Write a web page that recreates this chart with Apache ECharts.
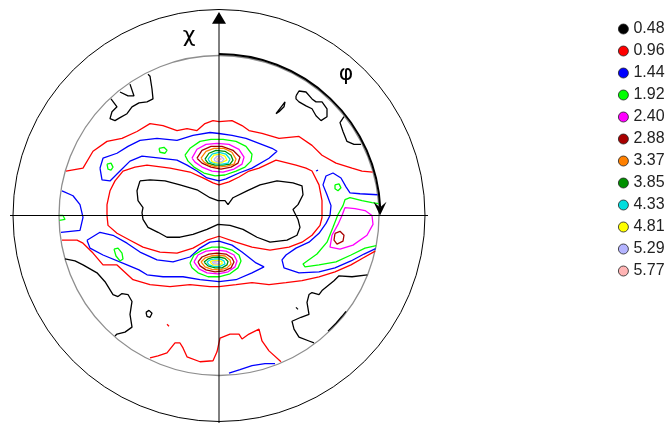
<!DOCTYPE html>
<html>
<head>
<meta charset="utf-8">
<script src="https://cdn.jsdelivr.net/npm/echarts@6/dist/echarts.min.js"></script>
<style>
  html, body { margin: 0; padding: 0; background: #fff; }
  #chart { width: 672px; height: 423px; }
</style>
</head>
<body>
<div id="chart"></div>
<script>
// Pole figure contour plot. Coordinates are on the projection plane,
// where the rim of the pole figure (chi = 90 deg) has radius 80.

// Contour levels (intensity) and their line colours
const levels = ['0.48', '0.96', '1.44', '1.92', '2.40', '2.88', '3.37', '3.85', '4.33', '4.81', '5.29', '5.77'];
const levelColors = ['#000000', '#ff0000', '#0000ff', '#00ff00', '#ff00ff', '#a80000',
                     '#ff8000', '#009000', '#00dede', '#ffff00', '#b4b4ff', '#ffb4b4'];

// ---- 0.48 ----
const rings048 = [
  [[-39.5,17.5],[-34.5,18],[-27,17.5],[-19.5,15.5],[-11,13],[-4.5,9],[-0.5,7.5],[3,7.5],[4.5,5.5],[7,9],[14,12.5],[20.5,15.5],[29,17.5],[37,16.5],[41.5,15],[42,10.5],[39.5,5.5],[37,3],[39.5,-2],[40.5,-6],[39,-10],[34,-12.5],[25.5,-13.5],[19,-11],[12,-7],[5.5,-5],[-0.5,-4.5],[-6,-7],[-13,-9.5],[-19.5,-11],[-26,-11],[-30.5,-8.5],[-35.5,-6],[-38,-2],[-38.5,1.5],[-38,4],[-40.5,7.5],[-41,12.5]],
  [[28.5,51.5],[31.5,55.5],[33,57.5],[32.5,55],[30,52.5]],
  [[38.5,60.5],[40,63],[43.5,62.5],[46.5,59],[48.5,57.5],[51.5,57.5],[54,54],[54,50],[51,48],[48.5,50.5],[46.5,54],[43.5,55.5],[40,57.5],[38.5,59]],
  [[-36.5,-49],[-35,-48],[-33.5,-49.5],[-34.5,-51.5],[-36,-51]],
  [[38.5,-46.5],[39.5,-46.5],[39.5,-47.5],[38.5,-47.5]]
];
const paths048 = [
  [[-54,59],[-51,55],[-53.5,52.5],[-54.5,49],[-52,48],[-49.5,49.5],[-46,51.5],[-43.5,55],[-40,57],[-36,57.5],[-33,59],[-33.5,64],[-34.5,70.5],[-35.5,71.5]],
  [[-49.5,62.5],[-45.5,60.5],[-42.5,60.5],[-44.5,66.5]],
  [[62.5,50],[60.5,47],[62,42.5],[64,37.5],[67.5,36],[71,36]],
  [[-77,-22],[-72,-23],[-68,-25],[-61,-29],[-57,-33.5],[-53,-40],[-50.5,-41],[-48.5,-39.5],[-45.5,-40],[-43.5,-43.5],[-44.5,-50],[-43.5,-56.5],[-47,-59],[-51,-60],[-52,-61]],
  [[74.2,-30],[66.5,-31],[60,-30.5],[57.5,-33],[51.5,-38],[50,-40],[46.5,-39],[45,-40],[44,-44],[45,-50],[41,-51.5],[36.5,-53.5],[37.5,-57.5],[40,-61.5],[45,-63.5],[47.5,-64.5]],
  [[54.5,-58.5],[58.5,-54.5],[61.5,-51],[63.5,-48.5]]
];

// ---- 0.96 ----
const rings096 = [
  [[-56,0],[-56,5.5],[-54.5,12.5],[-52,17.5],[-48,22.5],[-42,24.5],[-36,25.5],[-24.5,24],[-14.5,22],[-8,19],[-3,16.5],[0,15.5],[5,17],[10,19.5],[15,22.5],[20,24],[28.5,28],[38.5,25.5],[43.5,24],[46.5,22.5],[50,15.5],[51.5,7.5],[51.5,-1],[50.5,-5],[46.5,-10],[41.5,-13.5],[35,-16],[25.5,-17.5],[16.5,-16],[8.5,-13.5],[0,-10.5],[-6,-12.5],[-13,-16.5],[-21,-19],[-29.5,-18.5],[-38,-16],[-44.5,-12.5],[-51,-9],[-55.5,-5]],
  [[-26,-55],[-25,-55],[-25,-56],[-26,-56]]
];
const paths096 = [
  [[-76.5,22.5],[-68,24],[-63,32.5],[-56,37.5],[-48.5,39],[-41,42.5],[-34.5,46.5],[-28,45.5],[-21,43],[-16,44],[-11,43],[-7,46.5],[-3,48],[0,47.5],[6.5,48],[11.5,45.5],[15,43],[21.5,41.5],[30,39],[40,40],[46.5,35.5],[51.5,30.5],[58.5,26.5],[66.5,24],[71.5,22.5],[76.8,22]],
  [[-78.5,-12.5],[-71,-12.5],[-68,-14],[-63,-19],[-58,-25],[-51,-25],[-43,-32.5],[-34.5,-35],[-24.5,-36],[-14.5,-35],[-4.5,-36],[0,-36],[8.5,-35],[16.5,-34],[25,-35],[33.5,-34],[41.5,-33],[50,-31],[58,-28.5],[66,-25],[72,-21.5],[78.1,-18]],
  [[-34.5,-72],[-30.5,-71],[-26,-69.5],[-22,-64.5],[-19.5,-64.5],[-18,-67],[-16,-71.5],[-9.5,-74],[-3,-73.5],[-1,-69],[0.5,-62],[5.5,-60],[10,-60],[11.5,-62.5],[15,-60],[20,-57.5],[21.5,-63.5],[25,-68.5],[31,-74]]
];

// ---- 1.44 ----
const rings144 = [
  [[-59.5,24],[-58,29],[-51,31.5],[-45.5,35],[-39.5,38],[-31,39],[-21,38],[-13,40.5],[-4.5,42],[0,41.5],[6.5,40.5],[13.5,39],[20,36.5],[26.5,34],[29,32.5],[25,29],[16.5,24],[10,21.5],[3.5,18.5],[0,17.5],[-6,19],[-11,22.5],[-16,25.5],[-21,28],[-29.5,29],[-38.5,30],[-44.5,27.5],[-49.5,22.5],[-54.5,17.5],[-58.5,18]],
  [[-66,-12.5],[-59.5,-8.5],[-53,-10],[-46,-14],[-39.5,-18.5],[-31,-22.5],[-23,-23.5],[-14.5,-21],[-9.5,-16.5],[-4.5,-13.5],[0,-13],[6.5,-15],[11.5,-18.5],[18.5,-24],[22.5,-26],[21.5,-26.5],[16.5,-29],[8.5,-32.5],[0,-33.5],[-9.5,-32.5],[-18,-31],[-28,-31],[-36,-30],[-40,-27.5],[-46,-25],[-58,-20],[-64.5,-16.5]],
  [[48.5,22.5],[49.5,23],[49.5,22],[48.5,22]]
];
const paths144 = [
  [[-78.5,12.5],[-73,10],[-69.5,5.5],[-68,-1],[-69.5,-7.5],[-79,-8.5]],
  [[79.3,10.5],[70.5,11],[65.5,11.5],[63.5,14.5],[61,19],[57,21.5],[53.5,20],[52,15.5],[54,10.5],[56,5],[55.5,0],[53.5,-4],[50,-9],[45,-13.5],[38.5,-16.5],[33.5,-20],[31.5,-22.5],[32.5,-26.5],[40,-29],[50,-28.5],[58,-26.5],[66,-23],[72.5,-19.5],[78.3,-16.8]],
  [[5,-79.8],[10.5,-78],[16.5,-76],[23,-75],[28,-75]]
];

// ---- 1.92 ----
const rings192 = [
  [[-56,26],[-54,26.5],[-53,24.5],[-54,23],[-55.5,23.5]],
  [[-30,34],[-27.5,34.5],[-26,33],[-27,31.5],[-29.5,32]],
  [[-17,30.5],[-14.5,34],[-9.5,37.5],[-4,38.5],[2,38.5],[8.5,37.5],[13.5,35],[16.5,31],[16,27.5],[13,24.5],[8.5,22.5],[3,20.5],[-2,20],[-7.5,21.5],[-12.5,24.5],[-15.5,27.5]],
  [[-52.5,-17],[-50.5,-16.5],[-48.5,-19],[-48,-22],[-49.5,-23],[-51.5,-20.5]],
  [[58,15.5],[60,16],[61,14],[59.5,12.5],[58,13.5]],
  [[-14.5,-24],[-12.5,-20],[-8.5,-17.5],[-3.5,-16],[1.5,-16],[6.5,-17.5],[10,-20],[11,-23],[9.5,-26.5],[5.5,-29.5],[0,-31],[-5.5,-31],[-10.5,-29],[-13.5,-26.5]]
];
const paths192 = [
  [[-79.95,0],[-78,0],[-77,-2],[-79.8,-2.5]],
  [[79.8,6],[76.5,6.5],[71.5,7.5],[65.5,9],[63,8],[62,5],[59.5,0.5],[57,-6],[54,-13.5],[49,-19.5],[42,-24.5],[43,-26],[50,-25],[58.5,-23.5],[66,-20],[73,-16.5],[78.6,-15.2]]
];

// ---- 2.40 ----
const rings240 = [
  [[-13.5,29],[-11,33.5],[-6.5,36],[-1,36.5],[5,36],[10,33.5],[12.5,29.5],[11.5,26],[7.5,23.5],[2,22],[-3.5,22.5],[-8.5,24.5],[-12,27]],
  [[-12.5,-23.5],[-10.5,-20],[-6.5,-18],[-1.5,-17.5],[3.5,-18],[7.5,-20],[9,-23],[8,-26],[4.5,-28.5],[-0.5,-29.5],[-6,-29],[-10,-27]],
  [[63,4],[68,3.5],[73,2.5],[76.5,0],[77,-4.5],[74,-10],[67,-15],[60.5,-17],[55.5,-16],[56.5,-10],[59.5,-4.5],[61.5,0]]
];

// ---- 2.88 ----
const rings288 = [
  [[-11,29],[-8.5,33],[-4,35],[1.5,35],[7,33],[10.5,29.5],[9.5,26.5],[6,24.5],[1,23.5],[-4,24.5],[-8.5,26.5]],
  [[-10.5,-23.5],[-8.5,-21],[-5,-19.5],[-1,-19],[3.5,-19.5],[6.5,-21.5],[7.5,-23.5],[6,-26.5],[2.5,-28],[-2,-28.5],[-6.5,-27.5],[-9.5,-25.5]],
  [[58,-9],[60.5,-8],[62.5,-10],[62,-13],[59,-14.5],[57.5,-12.5]]
];

// ---- 3.37 ----
const rings337 = [
  [[-9,29],[-6.5,32.5],[-2.5,34],[2.5,34],[6.5,32],[8.5,28.5],[7.5,26],[4,25],[-0.5,24.5],[-5,25.5],[-7.5,27]],
  [[-9,-23.5],[-7,-21.5],[-4,-20.5],[-0.5,-20],[3,-20.5],[5.5,-22.5],[6,-24.5],[4,-26.5],[0.5,-27.5],[-3.5,-27.3],[-7,-26]]
];

// ---- 3.85 ----
const rings385 = [
  [[-7,28.5],[-5,31.5],[-1.5,33],[3,32.5],[6,30.5],[7,28],[5.5,26],[2,25.5],[-2,25.5],[-5.5,26.5]],
  [[-7.5,-23.5],[-5.5,-22],[-3,-21.2],[0,-21],[3,-21.7],[4.5,-23.3],[4,-25],[1.5,-26.5],[-2,-26.5],[-5.5,-25.5]]
];

// ---- 4.33 ----
const rings433 = [
  [[-5.5,28.5],[-3.5,31],[0,32],[3.5,31],[5.5,28.5],[4.5,26.5],[1.5,26],[-2,26.2],[-4.5,27]],
  [[-6,-23.5],[-4.5,-22.5],[-2,-22],[0.5,-22],[2.5,-23],[3,-24.5],[0.5,-25.7],[-2.5,-25.7],[-5,-25]]
];

// ---- 4.81 ----
const rings481 = [
  [[-4,28.5],[-2.5,30.5],[0.5,31],[3,30],[4,28],[3,27],[0.5,26.5],[-2,26.8],[-3.5,27.3]],
  [[-4.5,-23.5],[-3,-22.8],[-0.5,-22.7],[1.5,-23.3],[1.5,-24.5],[-0.5,-25],[-3,-25]]
];

// ---- 5.29 ----
const rings529 = [
  [[-2.5,28.5],[-1,30],[1,30],[2.5,28.5],[1.5,27.3],[-0.5,27.1],[-2,27.6]],
  [[-3.5,-23.6],[-2,-23.2],[0,-23.3],[0.8,-23.8],[0,-24.5],[-2.5,-24.5]]
];

// ---- 5.77 ----
const rings577 = [
  [[-1.2,28.5],[0,29.3],[1.2,28.6],[0.8,27.8],[-0.5,27.8]],
  [[-2.5,-23.8],[-1,-23.5],[0,-23.9],[-1.5,-24.3]]
];

// Closed rings and rim-to-rim paths for each level, in level order
const levelRings = [rings048, rings096, rings144, rings192, rings240, rings288,
                    rings337, rings385, rings433, rings481, rings529, rings577];
const levelPaths = [paths048, paths096, paths144, paths192, [], [], [], [], [], [], [], []];

const series = [];
levels.forEach((name, i) => {
  const color = levelColors[i];
  const lines = levelRings[i].map(r => r.concat([r[0]])).concat(levelPaths[i]);
  lines.forEach(pts => {
    series.push({
      type: 'line', name: name, data: pts,
      symbol: 'none', smooth: false, silent: true, animation: false, z: 3,
      lineStyle: { color: color, width: 1.3 },
      itemStyle: { color: color }
    });
  });
});

const chart = echarts.init(document.getElementById('chart'));
chart.setOption({
  animation: false,
  backgroundColor: '#ffffff',
  grid: { left: 9, top: 8, width: 420, height: 420 },
  xAxis: { type: 'value', min: -105, max: 105, show: false },
  yAxis: { type: 'value', min: -105, max: 105, show: false },
  legend: {
    data: levels,
    orient: 'vertical',
    left: 613, top: 16,
    icon: 'circle',
    itemWidth: 10, itemHeight: 10, itemGap: 6,
    selectedMode: false,
    itemStyle: { borderColor: '#222', borderWidth: 0.8 },
    textStyle: { fontFamily: '"Liberation Sans", Arial, sans-serif', fontSize: 16, lineHeight: 16, color: '#222' }
  },
  series: series
});

// Frame of the pole figure: rim, outer circle, axes and the chi / phi arrows
const toPx = p => chart.convertToPixel({ gridIndex: 0 }, p);
const c = toPx([0, 0]);
const rad = u => toPx([u, 0])[0] - c[0];
const chiTip = toPx([0, 103]);
const chiBase = toPx([0, 97.5]);
const phiR = rad(80.7);
const phiTip = toPx([80.5, 0]);
const phiBase = toPx([80.5, 7]);
const phiNotch = toPx([80.5, 4]);
const half = rad(3.5);
const phiEnd = -Math.asin((c[1] - phiNotch[1]) / phiR);

chart.setOption({
  graphic: [
    { type: 'circle', z: 1, shape: { cx: c[0], cy: c[1], r: rad(103) },
      style: { fill: 'none', stroke: '#000', lineWidth: 1 } },
    { type: 'circle', z: 1, shape: { cx: c[0], cy: c[1], r: rad(80) },
      style: { fill: 'none', stroke: '#8e8e8e', lineWidth: 1.3 } },
    { type: 'line', z: 10, shape: { x1: toPx([-104.5, 0])[0], y1: c[1], x2: toPx([104.5, 0])[0], y2: c[1] },
      style: { stroke: '#000', lineWidth: 1 } },
    { type: 'line', z: 10, shape: { x1: c[0], y1: chiBase[1], x2: c[0], y2: toPx([0, -105])[1] },
      style: { stroke: '#000', lineWidth: 1 } },
    { type: 'polygon', z: 10,
      shape: { points: [[chiTip[0], chiTip[1]], [chiTip[0] + half, chiBase[1] + 1], [chiTip[0] - half, chiBase[1] + 1]] },
      style: { fill: '#000' } },
    { type: 'arc', z: 11,
      shape: { cx: c[0], cy: c[1], r: phiR, startAngle: -Math.PI / 2, endAngle: phiEnd, clockwise: true },
      style: { fill: 'none', stroke: '#000', lineWidth: 2 } },
    { type: 'polygon', z: 11,
      shape: { points: [[phiTip[0], phiTip[1]], [phiBase[0] + 6.5, phiBase[1]], [phiNotch[0], phiNotch[1]], [phiBase[0] - 6.5, phiBase[1]]] },
      style: { fill: '#000' } },
    { type: 'text', z: 12, x: toPx([-15, 90.5])[0], y: toPx([-15, 90.5])[1],
      style: { text: 'χ', font: '22px "DejaVu Sans", sans-serif', fill: '#000',
               align: 'center', verticalAlign: 'middle', textAlign: 'center', textVerticalAlign: 'middle' } },
    { type: 'text', z: 12, x: toPx([63.5, 71.5])[0], y: toPx([63.5, 71.5])[1],
      style: { text: 'φ', font: '22px "DejaVu Sans", sans-serif', fill: '#000',
               align: 'center', verticalAlign: 'middle', textAlign: 'center', textVerticalAlign: 'middle' } }
  ]
});
</script>
</body>
</html>
